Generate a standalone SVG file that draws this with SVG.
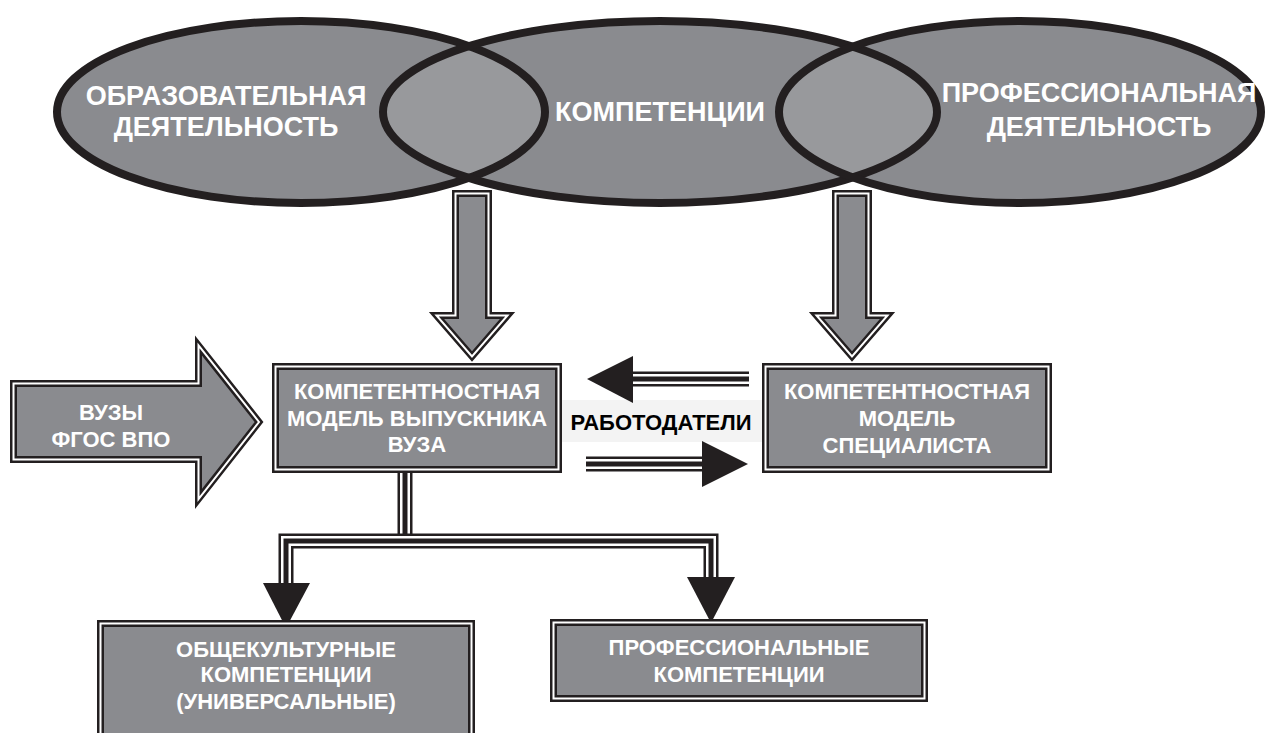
<svg xmlns="http://www.w3.org/2000/svg" xmlns:xlink="http://www.w3.org/1999/xlink" width="1266" height="733" viewBox="0 0 1266 733">
  <style>
    .ell { fill: #8a8b8f; }
    .lens { fill: #98999c; }
    .ellstroke { fill: none; stroke: #231f20; stroke-width: 8; }
    .wt { font-family: "Liberation Sans", Arial, sans-serif; font-weight: bold; fill: #ffffff; text-anchor: middle; }
    .bt { font-family: "Liberation Sans", Arial, sans-serif; font-weight: bold; fill: #000000; text-anchor: middle; }
    .big { font-size: 27px; }
    .mid { font-size: 22px; }
    .outer { fill: #8a8b8f; stroke: #231f20; stroke-width: 7; stroke-linejoin: miter; }
    .inner { fill: none; stroke: #ffffff; stroke-width: 2; stroke-linejoin: miter; }
    .l1 { fill: none; stroke: #231f20; stroke-width: 15; stroke-linejoin: miter; }
    .l2 { fill: none; stroke: #ffffff; stroke-width: 10; stroke-linejoin: miter; }
    .l3 { fill: none; stroke: #231f20; stroke-width: 5; stroke-linejoin: miter; }
    .head { fill: #231f20; }
  </style>
  <defs>
    <ellipse id="e1" cx="301" cy="112" rx="244" ry="91"/>
    <ellipse id="e2" cx="660" cy="112" rx="277" ry="91"/>
    <ellipse id="e3" cx="1020" cy="112" rx="241" ry="91"/>
    <clipPath id="c1"><use xlink:href="#e1"/></clipPath>
    <clipPath id="c3"><use xlink:href="#e3"/></clipPath>
    <polygon id="downArrow" points="-16.5,193.5 16.5,193.5 16.5,315.5 35.5,315.5 0,356.5 -35.5,315.5 -16.5,315.5"/>
  </defs>

  <g id="venn">
    <use xlink:href="#e1" class="ell"/>
    <use xlink:href="#e2" class="ell"/>
    <use xlink:href="#e3" class="ell"/>
    <use xlink:href="#e2" class="lens" clip-path="url(#c1)"/>
    <use xlink:href="#e2" class="lens" clip-path="url(#c3)"/>
    <use xlink:href="#e1" class="ellstroke"/>
    <use xlink:href="#e2" class="ellstroke"/>
    <use xlink:href="#e3" class="ellstroke"/>
  </g>
  <g id="node-obrazovatelnaya">
    <text class="wt big" x="226" y="105">ОБРАЗОВАТЕЛЬНАЯ</text>
    <text class="wt big" x="226" y="136">ДЕЯТЕЛЬНОСТЬ</text>
  </g>
  <g id="node-kompetencii">
    <text class="wt big" x="660" y="121">КОМПЕТЕНЦИИ</text>
  </g>
  <g id="node-professionalnaya">
    <text class="wt big" x="1099" y="102">ПРОФЕССИОНАЛЬНАЯ</text>
    <text class="wt big" x="1099" y="136">ДЕЯТЕЛЬНОСТЬ</text>
  </g>

  <g id="connectors">
    <!-- big down arrows -->
    <use xlink:href="#downArrow" class="outer" transform="translate(472,0)"/>
    <use xlink:href="#downArrow" class="inner" transform="translate(472,0)"/>
    <use xlink:href="#downArrow" class="outer" transform="translate(852,0)"/>
    <use xlink:href="#downArrow" class="inner" transform="translate(852,0)"/>

    <!-- label background -->
    <rect x="560" y="400" width="203" height="42" fill="#f3f3f3"/>

    <!-- left-pointing arrow -->
    <path class="l1" d="M625 379 H749"/>
    <path class="l2" d="M625 379 H749"/>
    <path class="l3" d="M625 379 H749"/>
    <polygon class="head" points="587,379 633,356 633,403"/>
    <!-- right-pointing arrow -->
    <path class="l1" d="M586 464 H710"/>
    <path class="l2" d="M586 464 H710"/>
    <path class="l3" d="M586 464 H710"/>
    <polygon class="head" points="702,441 748,464 702,487"/>

    <!-- branch to bottom boxes -->
    <path class="l1" d="M405 473 V541"/>
    <path class="l2" d="M405 473 V541"/>
    <path class="l3" d="M405 473 V541"/>
    <path class="l1" d="M286 585 V541 H711 V579"/>
    <path class="l2" d="M286 585 V541 H711 V579"/>
    <path class="l3" d="M286 585 V541 H711 V579"/>
    <polygon class="head" points="263,583 310,583 286,628"/>
    <polygon class="head" points="687,577 735,577 711,623"/>
  </g>

  <g id="node-rabotodateli">
    <text class="bt mid" x="661" y="430">РАБОТОДАТЕЛИ</text>
  </g>

  <g id="node-vuzy">
    <polygon class="outer" points="13.5,383.5 198.5,383.5 198.5,345.5 259,422 198.5,499 198.5,459.5 13.5,459.5"/>
    <polygon class="inner" points="13.5,383.5 198.5,383.5 198.5,345.5 259,422 198.5,499 198.5,459.5 13.5,459.5"/>
    <text class="wt mid" x="111" y="420">ВУЗЫ</text>
    <text class="wt mid" x="111" y="447">ФГОС ВПО</text>
  </g>

  <g id="node-model-vypusknika">
    <rect class="outer" x="275.5" y="366.5" width="283" height="103"/>
    <rect class="inner" x="275.5" y="366.5" width="283" height="103"/>
    <text class="wt mid" x="417" y="399">КОМПЕТЕНТНОСТНАЯ</text>
    <text class="wt mid" x="417" y="426">МОДЕЛЬ ВЫПУСКНИКА</text>
    <text class="wt mid" x="417" y="452">ВУЗА</text>
  </g>

  <g id="node-model-specialista">
    <rect class="outer" x="765.5" y="366.5" width="283" height="103"/>
    <rect class="inner" x="765.5" y="366.5" width="283" height="103"/>
    <text class="wt mid" x="907" y="399">КОМПЕТЕНТНОСТНАЯ</text>
    <text class="wt mid" x="907" y="426">МОДЕЛЬ</text>
    <text class="wt mid" x="907" y="453">СПЕЦИАЛИСТА</text>
  </g>

  <g id="node-obshchekulturnye">
    <rect class="outer" x="100.5" y="623.5" width="371" height="120"/>
    <rect class="inner" x="100.5" y="623.5" width="371" height="120"/>
    <text class="wt mid" x="286" y="657">ОБЩЕКУЛЬТУРНЫЕ</text>
    <text class="wt mid" x="286" y="682">КОМПЕТЕНЦИИ</text>
    <text class="wt mid" x="286" y="709">(УНИВЕРСАЛЬНЫЕ)</text>
  </g>

  <g id="node-professionalnye">
    <rect class="outer" x="553.5" y="622.5" width="371" height="76"/>
    <rect class="inner" x="553.5" y="622.5" width="371" height="76"/>
    <text class="wt mid" x="739" y="655">ПРОФЕССИОНАЛЬНЫЕ</text>
    <text class="wt mid" x="739" y="682">КОМПЕТЕНЦИИ</text>
  </g>
</svg>
